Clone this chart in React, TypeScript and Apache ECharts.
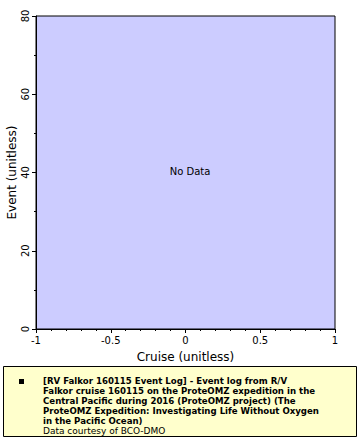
import React, { useEffect, useRef } from "react";
import * as echarts from "echarts";

const xTicks = [-1, -0.5, 0, 0.5, 1];
const yTicks = [0, 20, 40, 60, 80];
const seriesData: [number, number][] = [];
const xName = "Cruise (unitless)";
const yName = "Event (unitless)";
const noDataText = "No Data";
const legendTitleLines = [
  "[RV Falkor 160115 Event Log] - Event log from R/V",
  "Falkor cruise 160115 on the ProteOMZ expedition in the",
  "Central Pacific during 2016 (ProteOMZ project) (The",
  "ProteOMZ Expedition: Investigating Life Without Oxygen",
  "in the Pacific Ocean)",
];
const legendCredit = "Data courtesy of BCO-DMO";

export default function App() {
  const ref = useRef<HTMLDivElement>(null);
  useEffect(() => {
    if (!ref.current) return;
    const chart = echarts.init(ref.current, undefined, { renderer: "svg" });
    const font = "DejaVu Sans";
    chart.setOption({
      animation: false,
      backgroundColor: "#ffffff",
      grid: {
        left: 36,
        top: 16,
        right: 25,
        bottom: 111,
        outerBoundsMode: "none",
        containLabel: false,
        show: true,
        backgroundColor: "#ccccff",
        borderColor: "#000",
        borderWidth: 1,
      },
      xAxis: {
        type: "value",
        min: xTicks[0],
        max: xTicks[xTicks.length - 1],
        interval: 0.5,
        name: xName,
        nameLocation: "middle",
        nameGap: 22,
        nameMoveOverlap: false,
        nameTextStyle: { fontFamily: font, fontSize: 12, color: "#000" },
        axisLine: { show: true, onZero: false, lineStyle: { color: "#000", width: 1 } },
        axisTick: { show: true, inside: false, length: 4, lineStyle: { color: "#000" } },
        minorTick: { show: true, splitNumber: 5, length: 2, lineStyle: { color: "#000" } },
        axisLabel: { fontFamily: font, fontSize: 10, color: "#000", margin: 6, formatter: (v: number) => String(v) },
        splitLine: { show: false },
      },
      yAxis: {
        type: "value",
        min: yTicks[0],
        max: yTicks[yTicks.length - 1],
        interval: 20,
        name: yName,
        nameLocation: "middle",
        nameRotate: 90,
        nameGap: 18,
        nameMoveOverlap: false,
        nameTextStyle: { fontFamily: font, fontSize: 12, color: "#000" },
        axisLine: { show: true, onZero: false, lineStyle: { color: "#000", width: 1 } },
        axisTick: { show: true, inside: false, length: 4, lineStyle: { color: "#000" } },
        minorTick: { show: true, splitNumber: 2, length: 2, lineStyle: { color: "#000" } },
        axisLabel: { fontFamily: font, fontSize: 10, color: "#000", rotate: 90, margin: 6 },
        splitLine: { show: false },
      },
      series: [{ type: "scatter", data: seriesData, symbolSize: 4, itemStyle: { color: "#000" } }],
      graphic: [
        {
          type: "text",
          x: 190,
          y: 171,
          style: { text: noDataText, fontFamily: font, fontSize: 10, fill: "#000", align: "center", verticalAlign: "middle" },
        },
        {
          type: "rect",
          shape: { x: 3.5, y: 366.5, width: 353, height: 70 },
          style: { fill: "#ffffcc", stroke: "#000", lineWidth: 1 },
        },
        {
          type: "rect",
          shape: { x: 19, y: 379, width: 5, height: 5 },
          style: { fill: "#000" },
        },
        {
          type: "text",
          x: 43,
          y: 376,
          style: {
            text: legendTitleLines.join("\n"),
            fontFamily: font,
            fontSize: 8.6,
            fontWeight: "bold",
            lineHeight: 10,
            fill: "#000",
          },
        },
        {
          type: "text",
          x: 43,
          y: 426,
          style: { text: legendCredit, fontFamily: font, fontSize: 9, lineHeight: 10, fill: "#000" },
        },
      ],
    });
    return () => chart.dispose();
  }, []);
  return <div ref={ref} style={{ position: "fixed", left: 0, top: 0, width: 360, height: 440 }} />;
}
